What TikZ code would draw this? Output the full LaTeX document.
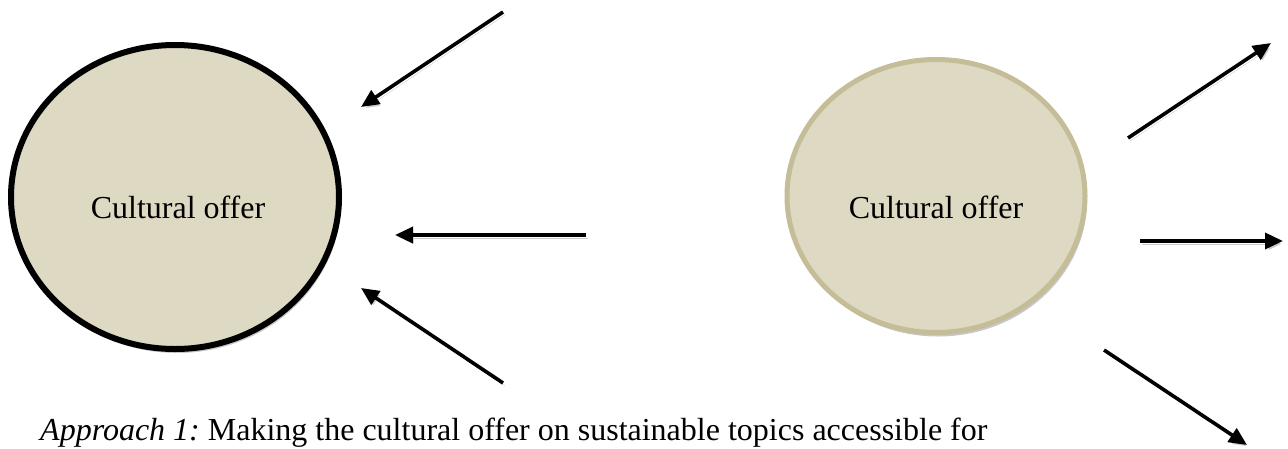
\documentclass[tikz,border=0pt]{standalone}
\usepackage{fontspec}
\setmainfont{Liberation Serif}
\usetikzlibrary{arrows.meta,shapes.geometric,shadows}
\definecolor{offerfill}{HTML}{DDD9C3}
\definecolor{offerline}{HTML}{C4BD97}
\tikzset{
  offer/.style={ellipse, fill=offerfill, inner sep=0pt, font=\fontsize{32}{38}\selectfont,
    drop shadow={shadow xshift=2pt, shadow yshift=-4pt, fill=black!22, opacity=1}},
  flow/.style={line width=3.6pt, -{Triangle[length=18pt,width=16pt]},
    preaction={draw=black!20, transform canvas={shift={(2pt,-3pt)}}}},
}
\begin{document}
\begin{tikzpicture}[x=1pt,y=-1pt]
\useasboundingbox (0,0) rectangle (1288,448);
% left
\node[offer, draw=black, line width=6pt, minimum width=328pt, minimum height=304pt] (left) at (175,197) {};
\node[font=\fontsize{32}{38}\selectfont, anchor=base] (lefttext) at (178,218) {Cultural offer};
\coordinate (la1) at (503,12);  \coordinate (lb1) at (361,107);
\coordinate (la2) at (586,235); \coordinate (lb2) at (395,235);
\coordinate (la3) at (503,383); \coordinate (lb3) at (361,288);
\draw[flow] (la1) -- (lb1);
\draw[flow] (la2) -- (lb2);
\draw[flow] (la3) -- (lb3);
% right
\node[offer, draw=offerline, line width=5pt, minimum width=298pt, minimum height=273pt] (right) at (936,196) {};
\node[font=\fontsize{32}{38}\selectfont, anchor=base] (righttext) at (936,218) {Cultural offer};
\coordinate (ra1) at (1128,138); \coordinate (rb1) at (1271,43);
\coordinate (ra2) at (1140,241); \coordinate (rb2) at (1283,241);
\coordinate (ra3) at (1104,350); \coordinate (rb3) at (1247,445);
\draw[flow] (ra1) -- (rb1);
\draw[flow] (ra2) -- (rb2);
\draw[flow] (ra3) -- (rb3);
% caption
\node[font=\fontsize{32}{38}\selectfont, anchor=base west, inner sep=0pt] (caption) at (40,440)
  {\itshape Approach 1:\upshape\ Making the cultural offer on sustainable topics accessible for};
\end{tikzpicture}
\end{document}
